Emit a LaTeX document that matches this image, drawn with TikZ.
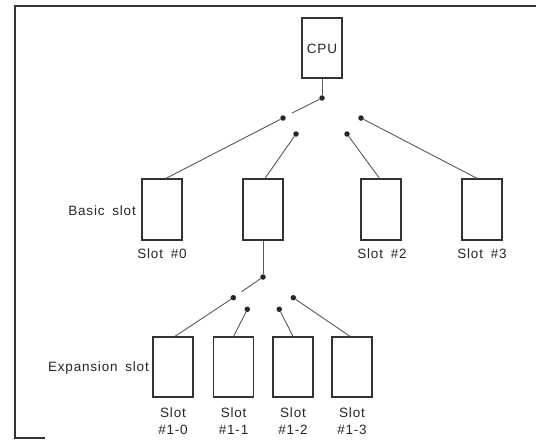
\documentclass[tikz,border=0pt]{standalone}
\usepackage{fontspec}
\setmainfont{Liberation Sans}[LetterSpace=6,WordSpace=1.7]
\begin{document}
\begin{tikzpicture}[x=1pt,y=-1pt,
  slotbox/.style={draw=black!80,line width=1.3pt,minimum width=40pt,minimum height=60pt,inner sep=0pt},
  dotnode/.style={circle,fill=black!85,inner sep=0pt,minimum size=5.5pt},
  wire/.style={draw=black!65,line width=0.9pt},
  lbl/.style={font=\fontsize{13.5}{16.5}\selectfont,text=black!85,inner sep=0pt},
  framel/.style={draw=black!80,line width=2.2pt}]
\useasboundingbox (0,0) rectangle (536,440);
% frame
\coordinate (f1) at (536,6);
\coordinate (f2) at (15,6);
\coordinate (f3) at (15,438);
\coordinate (f4) at (45,438);
\draw[framel] (f1) -- (f2) -- (f3) -- (f4);
% CPU
\node[slotbox,minimum height=60pt] (cpu) at (322,48) {};
\node[lbl] (cpulbl) at (322,49) {CPU};
% basic slots
\node[slotbox,minimum height=61pt] (s0) at (162,209.5) {};
\node[slotbox,minimum height=61pt] (s1) at (263,209.5) {};
\node[slotbox,minimum height=61pt] (s2) at (381,209.5) {};
\node[slotbox,minimum height=61pt] (s3) at (482,209.5) {};
\node[lbl,anchor=east] (basic) at (136,211) {Basic slot};
\node[lbl] (l0) at (162,254) {Slot \#0};
\node[lbl] (l2) at (382,254) {Slot \#2};
\node[lbl] (l3) at (482,254) {Slot \#3};
% switch dots basic
\node[dotnode] (p0) at (322,98) {};
\node[dotnode] (d0) at (283,118) {};
\node[dotnode] (d1) at (296,134) {};
\node[dotnode] (d2) at (347,134) {};
\node[dotnode] (d3) at (361,118) {};
\coordinate (lev0) at (292,113);
\draw[wire] (cpu.south) -- (p0);
\draw[wire] (p0) -- (lev0);
\draw[wire] (d0) -- ([xshift=4pt]s0.north);
\draw[wire] (d1) -- ([xshift=2pt]s1.north);
\draw[wire] (d2) -- ([xshift=-1.5pt]s2.north);
\draw[wire] (d3) -- ([xshift=-5pt]s3.north);
% expansion
\node[slotbox] (e0) at (173,367) {};
\node[slotbox] (e1) at (233.6,367) {};
\node[slotbox] (e2) at (293,367) {};
\node[slotbox] (e3) at (352,367) {};
\node[lbl,anchor=east] (exp) at (149,368) {Expansion slot};
\node[lbl,align=center] (m0) at (173,421) {Slot\\\#1-0};
\node[lbl,align=center] (m1) at (233.6,421) {Slot\\\#1-1};
\node[lbl,align=center] (m2) at (293,421) {Slot\\\#1-2};
\node[lbl,align=center] (m3) at (352,421) {Slot\\\#1-3};
\node[dotnode] (q0) at (263,277) {};
\node[dotnode] (g0) at (233.3,297.7) {};
\node[dotnode] (g1) at (247.3,309.3) {};
\node[dotnode] (g2) at (279.3,309.3) {};
\node[dotnode] (g3) at (293.3,297.7) {};
\coordinate (lev1) at (241.7,291.7);
\draw[wire] (s1.south) -- (q0);
\draw[wire] (q0) -- (lev1);
\draw[wire] (g0) -- ([xshift=2pt]e0.north);
\draw[wire] (g1) -- (e1.north);
\draw[wire] (g2) -- (e2.north);
\draw[wire] (g3) -- ([xshift=-2pt]e3.north);
\end{tikzpicture}
\end{document}
